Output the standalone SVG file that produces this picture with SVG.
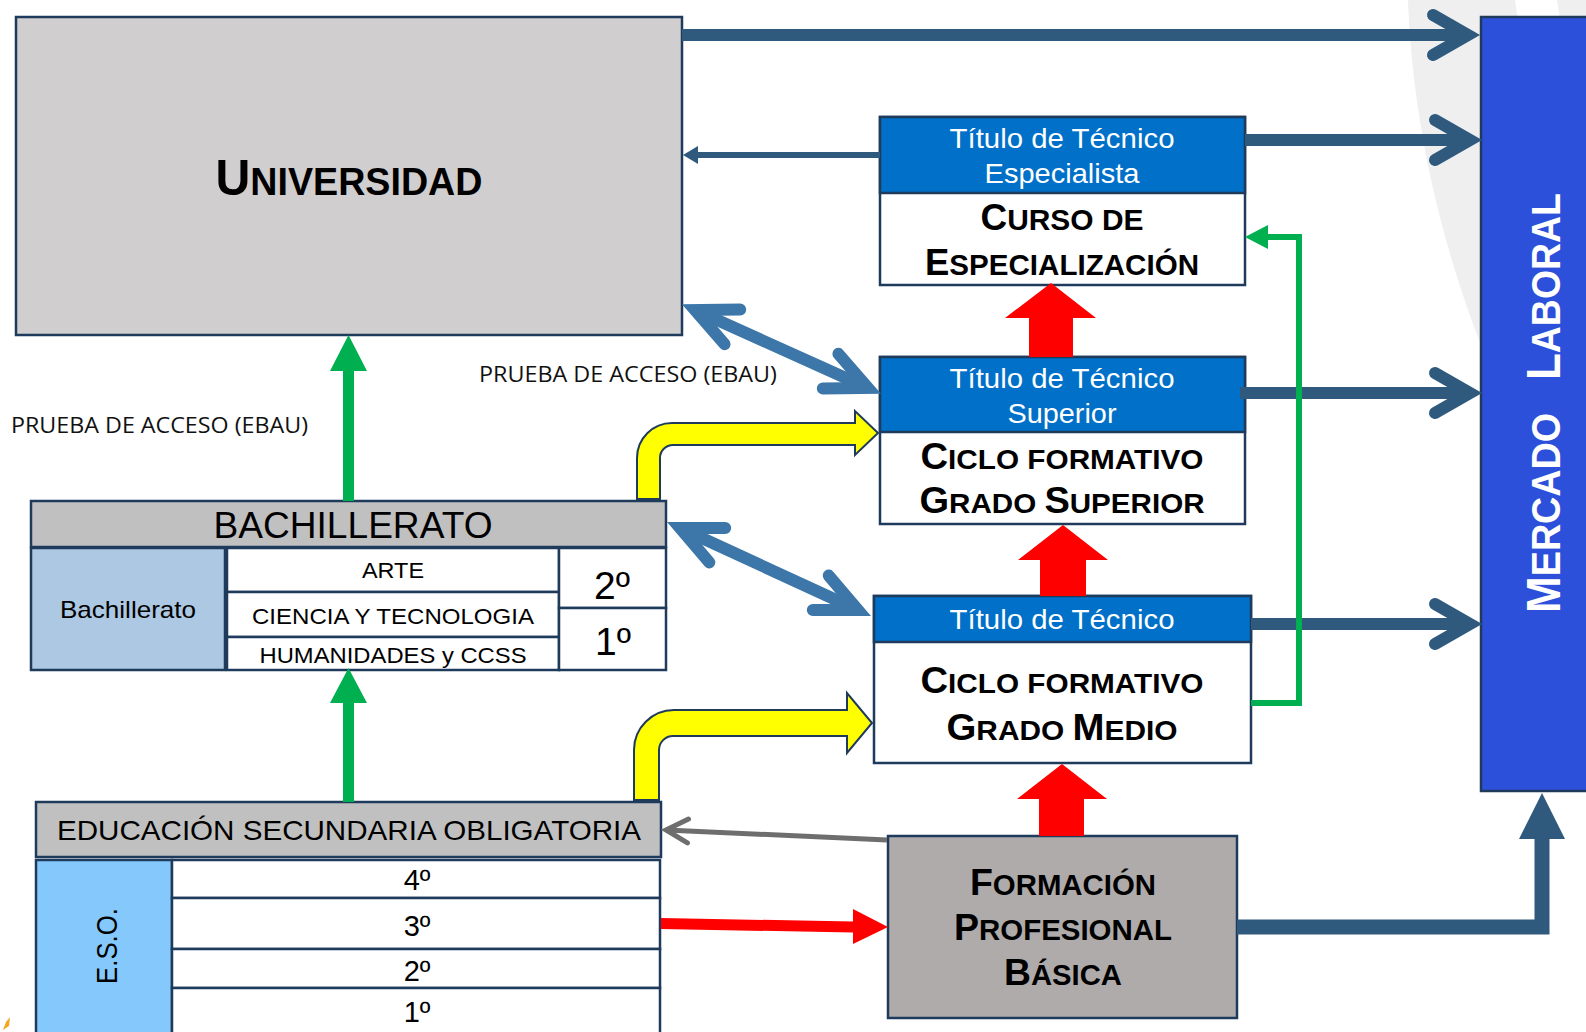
<svg xmlns="http://www.w3.org/2000/svg" width="1586" height="1032" viewBox="0 0 1586 1032">
<style>
.box{stroke:#1F3B5C;stroke-width:2.5}
.sans{font-family:"Liberation Sans",Arial,sans-serif}
.sc{font-family:"Liberation Sans Narrow","Liberation Sans",Arial,sans-serif;font-weight:bold;fill:#000}
.hd{font-family:"Liberation Sans Narrow","Liberation Sans",Arial,sans-serif;fill:#fff;font-size:28px}
.cal{font-family:"Open Sans","Liberation Sans",sans-serif;font-size:22px;fill:#111}
.navy{fill:none;stroke:#2F5A7E;stroke-width:12}
.dbl{fill:none;stroke:#3D76A8;stroke-width:12}
</style>
<defs>
<marker id="chevN" markerUnits="userSpaceOnUse" viewBox="-50 -30 70 60" markerWidth="70" markerHeight="60" refX="0" refY="0" orient="auto-start-reverse">
<path d="M-35,-20 L0,0 L-35,20" fill="none" stroke="#2F5A7E" stroke-width="12" stroke-linecap="round" stroke-linejoin="miter"/>
</marker>
<marker id="chevD" markerUnits="userSpaceOnUse" viewBox="-55 -30 80 60" markerWidth="80" markerHeight="60" refX="0" refY="0" orient="auto-start-reverse">
<path d="M-41,-19 L0,0 L-41,19" fill="none" stroke="#3D76A8" stroke-width="12" stroke-linecap="round" stroke-linejoin="miter"/>
</marker>
<marker id="chevG" markerUnits="userSpaceOnUse" viewBox="-30 -18 42 36" markerWidth="42" markerHeight="36" refX="0" refY="0" orient="auto">
<path d="M-22,-12 L0,0 L-22,12" fill="none" stroke="#6E6E6E" stroke-width="5" stroke-linecap="round" stroke-linejoin="miter"/>
</marker>
</defs>
<rect width="1586" height="1032" fill="#fff"/>
<path d="M1408,0 C1412,110 1436,240 1495,380 L1586,380 L1586,0 Z" fill="#EFEFEF"/>
<path d="M1515,0 L1557,0 L1560,20 L1518,20 Z" fill="#fff"/>
<path d="M3,1030 L6,1022 L10,1017 L9,1026 Z" fill="#F5A623"/>

<g id="universidad">
<rect class="box" x="16" y="17" width="666" height="318" fill="#D0CECF"/>
<text class="sc" x="349" y="195" text-anchor="middle" textLength="267" lengthAdjust="spacingAndGlyphs"><tspan font-size="50">U</tspan><tspan font-size="39">NIVERSIDAD</tspan></text>
</g>

<g id="mercado">
<rect class="box" x="1481" y="17" width="130" height="774" fill="#2C50DA"/>
<g transform="translate(1560,0) rotate(-90)">
<text class="sans" x="-613" y="0" font-weight="bold" fill="#fff" textLength="200" lengthAdjust="spacingAndGlyphs"><tspan font-size="48">M</tspan><tspan font-size="41">ERCADO</tspan></text>
<text class="sans" x="-380" y="0" font-weight="bold" fill="#fff" textLength="187" lengthAdjust="spacingAndGlyphs"><tspan font-size="48">L</tspan><tspan font-size="41">ABORAL</tspan></text>
</g>
</g>

<g id="especializacion">
<rect class="box" x="880" y="117" width="365" height="168" fill="#fff"/>
<rect class="box" x="880" y="117" width="365" height="76" fill="#0070C8"/>
<text class="hd" x="1062" y="148" text-anchor="middle" textLength="225" lengthAdjust="spacingAndGlyphs">Título de Técnico</text>
<text class="hd" x="1062" y="183" text-anchor="middle" textLength="155" lengthAdjust="spacingAndGlyphs">Especialista</text>
<text class="sc" x="1062" y="230" text-anchor="middle" textLength="163" lengthAdjust="spacingAndGlyphs"><tspan font-size="37">C</tspan><tspan font-size="30">URSO DE</tspan></text>
<text class="sc" x="1062" y="275" text-anchor="middle" textLength="274" lengthAdjust="spacingAndGlyphs"><tspan font-size="37">E</tspan><tspan font-size="30">SPECIALIZACIÓN</tspan></text>
</g>

<g id="grado-superior">
<rect class="box" x="880" y="357" width="365" height="167" fill="#fff"/>
<rect class="box" x="880" y="357" width="365" height="75" fill="#0070C8"/>
<text class="hd" x="1062" y="388" text-anchor="middle" textLength="225" lengthAdjust="spacingAndGlyphs">Título de Técnico</text>
<text class="hd" x="1062" y="423" text-anchor="middle" textLength="109" lengthAdjust="spacingAndGlyphs">Superior</text>
<text class="sc" x="1062" y="469" text-anchor="middle" textLength="283" lengthAdjust="spacingAndGlyphs"><tspan font-size="36">C</tspan><tspan font-size="28">ICLO FORMATIVO</tspan></text>
<text class="sc" x="1062" y="513" text-anchor="middle" textLength="285" lengthAdjust="spacingAndGlyphs"><tspan font-size="36">G</tspan><tspan font-size="28">RADO </tspan><tspan font-size="36">S</tspan><tspan font-size="28">UPERIOR</tspan></text>
</g>

<g id="grado-medio">
<rect class="box" x="874" y="596" width="377" height="167" fill="#fff"/>
<rect class="box" x="874" y="596" width="377" height="46" fill="#0070C8"/>
<text class="hd" x="1062" y="629" text-anchor="middle" textLength="225" lengthAdjust="spacingAndGlyphs">Título de Técnico</text>
<text class="sc" x="1062" y="693" text-anchor="middle" textLength="283" lengthAdjust="spacingAndGlyphs"><tspan font-size="36">C</tspan><tspan font-size="28">ICLO FORMATIVO</tspan></text>
<text class="sc" x="1062" y="740" text-anchor="middle" textLength="231" lengthAdjust="spacingAndGlyphs"><tspan font-size="36">G</tspan><tspan font-size="28">RADO </tspan><tspan font-size="36">M</tspan><tspan font-size="28">EDIO</tspan></text>
</g>

<g id="fp-basica">
<rect class="box" x="888" y="836" width="349" height="182" fill="#AFABAB"/>
<text class="sc" x="1063" y="895" text-anchor="middle" textLength="186" lengthAdjust="spacingAndGlyphs"><tspan font-size="37">F</tspan><tspan font-size="29">ORMACIÓN</tspan></text>
<text class="sc" x="1063" y="940" text-anchor="middle" textLength="218" lengthAdjust="spacingAndGlyphs"><tspan font-size="37">P</tspan><tspan font-size="29">ROFESIONAL</tspan></text>
<text class="sc" x="1063" y="985" text-anchor="middle" textLength="118" lengthAdjust="spacingAndGlyphs"><tspan font-size="37">B</tspan><tspan font-size="29">ÁSICA</tspan></text>
</g>

<g id="bachillerato">
<rect class="box" x="31" y="501" width="635" height="46" fill="#C0C0C0"/>
<text class="sans" x="353" y="538" font-size="36" text-anchor="middle" textLength="279" lengthAdjust="spacingAndGlyphs">BACHILLERATO</text>
<rect class="box" x="31" y="548" width="194" height="122" fill="#ACC8E2"/>
<text class="sans" x="128" y="618" font-size="24" text-anchor="middle" textLength="136" lengthAdjust="spacingAndGlyphs">Bachillerato</text>
<rect class="box" x="227" y="548" width="332" height="44" fill="#fff"/>
<rect class="box" x="227" y="592" width="332" height="45" fill="#fff"/>
<rect class="box" x="227" y="637" width="332" height="33" fill="#fff"/>
<text class="sans" x="393" y="578" font-size="22" text-anchor="middle" textLength="62" lengthAdjust="spacingAndGlyphs">ARTE</text>
<text class="sans" x="393" y="624" font-size="22" text-anchor="middle" textLength="282" lengthAdjust="spacingAndGlyphs">CIENCIA Y TECNOLOGIA</text>
<text class="sans" x="393" y="663" font-size="22" text-anchor="middle" textLength="267" lengthAdjust="spacingAndGlyphs">HUMANIDADES y CCSS</text>
<rect class="box" x="559" y="548" width="107" height="60" fill="#fff"/>
<rect class="box" x="559" y="608" width="107" height="62" fill="#fff"/>
<text class="sans" x="612" y="599" font-size="39" text-anchor="middle">2º</text>
<text class="sans" x="613" y="655" font-size="39" text-anchor="middle">1º</text>
</g>

<g id="eso">
<rect class="box" x="36" y="802" width="625" height="55" fill="#C0C0C0"/>
<text class="sans" x="349" y="840" font-size="28" text-anchor="middle" textLength="584" lengthAdjust="spacingAndGlyphs">EDUCACIÓN SECUNDARIA OBLIGATORIA</text>
<rect class="box" x="36" y="860" width="136" height="190" fill="#85C8FC"/>
<text class="sans" transform="translate(117,946) rotate(-90)" font-size="30" text-anchor="middle" textLength="76" lengthAdjust="spacingAndGlyphs">E.S.O.</text>
<rect class="box" x="172" y="860" width="488" height="38" fill="#fff"/>
<rect class="box" x="172" y="898" width="488" height="51" fill="#fff"/>
<rect class="box" x="172" y="949" width="488" height="39" fill="#fff"/>
<rect class="box" x="172" y="988" width="488" height="60" fill="#fff"/>
<text class="sans" x="417" y="890" font-size="29" text-anchor="middle">4º</text>
<text class="sans" x="417" y="936" font-size="29" text-anchor="middle">3º</text>
<text class="sans" x="417" y="981" font-size="29" text-anchor="middle">2º</text>
<text class="sans" x="417" y="1022" font-size="29" text-anchor="middle">1º</text>
</g>

<g id="labels">
<text class="cal" x="11" y="433" textLength="297" lengthAdjust="spacingAndGlyphs">PRUEBA DE ACCESO (EBAU)</text>
<text class="cal" x="479" y="382" textLength="298" lengthAdjust="spacingAndGlyphs">PRUEBA DE ACCESO (EBAU)</text>
</g>

<g id="connectors">
<path class="navy" d="M682,35 L1468,35" marker-end="url(#chevN)"/>
<path class="navy" d="M1245,140 L1470,140" marker-end="url(#chevN)"/>
<path class="navy" d="M1240,393 L1470,393" marker-end="url(#chevN)"/>
<path class="navy" d="M1251,624 L1470,624" marker-end="url(#chevN)"/>
<path d="M880,155 L697,155" fill="none" stroke="#2F5A7E" stroke-width="6"/>
<polygon points="698,146 683,155 698,164" fill="#2F5A7E"/>
<path class="dbl" d="M695,310 L868,388" marker-start="url(#chevD)" marker-end="url(#chevD)"/>
<path class="dbl" d="M680,528 L858,610" marker-start="url(#chevD)" marker-end="url(#chevD)"/>
<path d="M343,501 L343,371 L330,371 L348.5,335 L367,371 L354,371 L354,501 Z" fill="#00B050"/>
<path d="M343,802 L343,703 L330,703 L348.5,668 L367,703 L354,703 L354,802 Z" fill="#00B050"/>
<path d="M1251,703 L1299,703 L1299,237 L1266,237" fill="none" stroke="#00B050" stroke-width="6"/>
<polygon points="1268,225 1245,237 1268,249" fill="#00B050"/>
<path d="M637,499 L637,458 A35,35 0 0 1 672,423 L855,423 L855,411 L878,433 L855,455 L855,445 L673,445 A13,13 0 0 0 660,458 L660,499 Z" fill="#FFFF00" stroke="#1F3B5C" stroke-width="2"/>
<path d="M634,800 L634,750 A40,40 0 0 1 674,710 L847,710 L847,693 L872,723 L847,753 L847,736 L673,736 A14,14 0 0 0 659,750 L659,800 Z" fill="#FFFF00" stroke="#1F3B5C" stroke-width="2"/>
<path d="M1029,357 L1029,318 L1005,318 L1051,283 L1096,318 L1073,318 L1073,357 Z" fill="#FF0000"/>
<path d="M1040,596 L1040,560 L1018,560 L1063,525 L1108,560 L1086,560 L1086,596 Z" fill="#FF0000"/>
<path d="M1039,836 L1039,799 L1017,799 L1062,764 L1107,799 L1084,799 L1084,836 Z" fill="#FF0000"/>
<path d="M661,918 L853,921.5 L853,909 L888,927 L853,944 L853,932.5 L661,929 Z" fill="#FF0000"/>
<path d="M887,840 L666,830" fill="none" stroke="#6E6E6E" stroke-width="5" marker-end="url(#chevG)"/>
<path d="M1237,927 L1542,927 L1542,837" fill="none" stroke="#2F5A7E" stroke-width="15" stroke-linejoin="miter"/>
<polygon points="1519,839 1542,793 1565,839" fill="#2F5A7E"/>
</g>
</svg>
